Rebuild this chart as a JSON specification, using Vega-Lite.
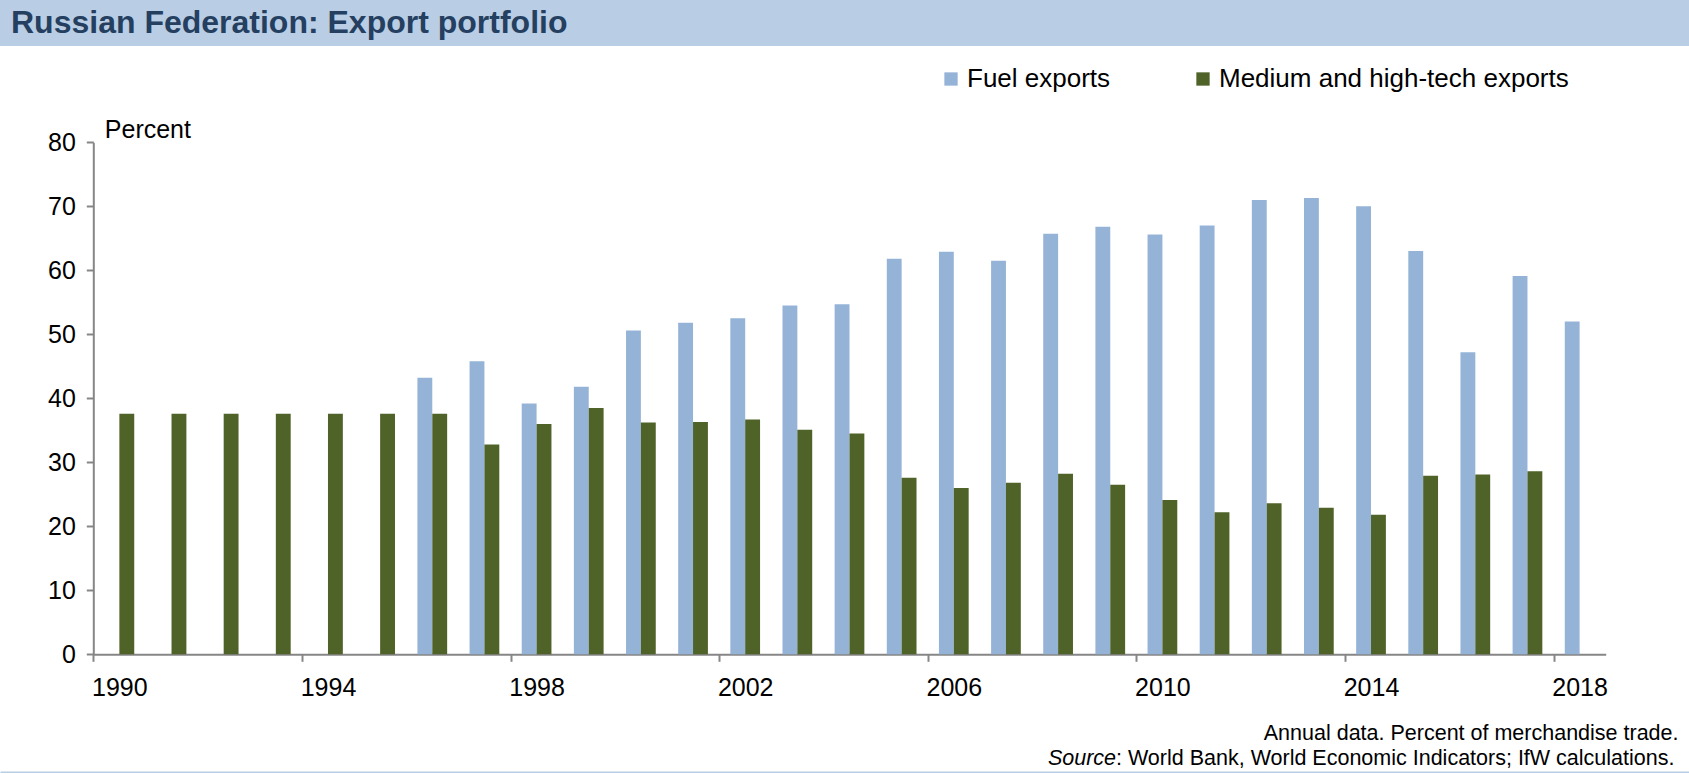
{
  "$schema": "https://vega.github.io/schema/vega-lite/v6.json",
  "padding": 0,
  "background": "white",
  "spacing": 0,
  "bounds": "flush",
  "config": {"font": "Liberation Sans", "view": {"stroke": null}},
  "resolve": {"scale": {"x": "independent", "y": "independent"}},
  "vconcat": [
    {
      "width": 1689,
      "height": 46,
      "view": {"fill": "#b9cde5", "stroke": null},
      "data": {"values": [{"label": "Russian Federation: Export portfolio"}]},
      "mark": {"type": "text", "align": "left", "baseline": "middle", "fontSize": 32, "fontWeight": "bold", "color": "#243f60"},
      "encoding": {
        "x": {"datum": 11, "type": "quantitative", "scale": {"domain": [0, 1689], "nice": false, "zero": false}, "axis": null},
        "text": {"field": "label"}
      }
    },
    {
      "width": 1689,
      "height": 674,
      "data": {"values": [
        {"year": 1990, "series": "Medium and high-tech exports", "value": 37.6},
        {"year": 1991, "series": "Medium and high-tech exports", "value": 37.6},
        {"year": 1992, "series": "Medium and high-tech exports", "value": 37.6},
        {"year": 1993, "series": "Medium and high-tech exports", "value": 37.6},
        {"year": 1994, "series": "Medium and high-tech exports", "value": 37.6},
        {"year": 1995, "series": "Medium and high-tech exports", "value": 37.6},
        {"year": 1996, "series": "Fuel exports", "value": 43.2},
        {"year": 1996, "series": "Medium and high-tech exports", "value": 37.6},
        {"year": 1997, "series": "Fuel exports", "value": 45.8},
        {"year": 1997, "series": "Medium and high-tech exports", "value": 32.8},
        {"year": 1998, "series": "Fuel exports", "value": 39.2},
        {"year": 1998, "series": "Medium and high-tech exports", "value": 36.0},
        {"year": 1999, "series": "Fuel exports", "value": 41.8},
        {"year": 1999, "series": "Medium and high-tech exports", "value": 38.5},
        {"year": 2000, "series": "Fuel exports", "value": 50.6},
        {"year": 2000, "series": "Medium and high-tech exports", "value": 36.2},
        {"year": 2001, "series": "Fuel exports", "value": 51.8},
        {"year": 2001, "series": "Medium and high-tech exports", "value": 36.3},
        {"year": 2002, "series": "Fuel exports", "value": 52.5},
        {"year": 2002, "series": "Medium and high-tech exports", "value": 36.7},
        {"year": 2003, "series": "Fuel exports", "value": 54.5},
        {"year": 2003, "series": "Medium and high-tech exports", "value": 35.1},
        {"year": 2004, "series": "Fuel exports", "value": 54.7},
        {"year": 2004, "series": "Medium and high-tech exports", "value": 34.5},
        {"year": 2005, "series": "Fuel exports", "value": 61.8},
        {"year": 2005, "series": "Medium and high-tech exports", "value": 27.6},
        {"year": 2006, "series": "Fuel exports", "value": 62.9},
        {"year": 2006, "series": "Medium and high-tech exports", "value": 26.0},
        {"year": 2007, "series": "Fuel exports", "value": 61.5},
        {"year": 2007, "series": "Medium and high-tech exports", "value": 26.8},
        {"year": 2008, "series": "Fuel exports", "value": 65.7},
        {"year": 2008, "series": "Medium and high-tech exports", "value": 28.2},
        {"year": 2009, "series": "Fuel exports", "value": 66.8},
        {"year": 2009, "series": "Medium and high-tech exports", "value": 26.5},
        {"year": 2010, "series": "Fuel exports", "value": 65.6},
        {"year": 2010, "series": "Medium and high-tech exports", "value": 24.1},
        {"year": 2011, "series": "Fuel exports", "value": 67.0},
        {"year": 2011, "series": "Medium and high-tech exports", "value": 22.2},
        {"year": 2012, "series": "Fuel exports", "value": 71.0},
        {"year": 2012, "series": "Medium and high-tech exports", "value": 23.6},
        {"year": 2013, "series": "Fuel exports", "value": 71.3},
        {"year": 2013, "series": "Medium and high-tech exports", "value": 22.9},
        {"year": 2014, "series": "Fuel exports", "value": 70.0},
        {"year": 2014, "series": "Medium and high-tech exports", "value": 21.8},
        {"year": 2015, "series": "Fuel exports", "value": 63.0},
        {"year": 2015, "series": "Medium and high-tech exports", "value": 27.9},
        {"year": 2016, "series": "Fuel exports", "value": 47.2},
        {"year": 2016, "series": "Medium and high-tech exports", "value": 28.1},
        {"year": 2017, "series": "Fuel exports", "value": 59.1},
        {"year": 2017, "series": "Medium and high-tech exports", "value": 28.6},
        {"year": 2018, "series": "Fuel exports", "value": 52.0}
      ]},
      "mark": {"type": "bar"},
      "encoding": {
        "x": {
          "field": "year",
          "type": "ordinal",
          "scale": {"range": [93.3, 1605.7], "paddingInner": 0.43, "paddingOuter": 0.215},
          "axis": {
            "orient": "bottom",
            "offset": -65.7,
            "values": [1990, 1994, 1998, 2002, 2006, 2010, 2014, 2018],
            "title": null,
            "labelAngle": 0,
            "labelFontSize": 25,
            "labelColor": "#000000",
            "labelPadding": 14,
            "labelBaseline": "top",
            "tickOffset": -26.07,
            "labelOffset": 26.07,
            "tickSize": 7,
            "tickWidth": 2,
            "tickColor": "#868686",
            "domainColor": "#868686",
            "domainWidth": 2,
            "grid": false
          }
        },
        "xOffset": {
          "field": "series",
          "type": "nominal",
          "scale": {"domain": ["Fuel exports", "Medium and high-tech exports"], "paddingInner": 0, "paddingOuter": 0}
        },
        "y": {
          "field": "value",
          "type": "quantitative",
          "scale": {"domain": [0, 80], "range": [608.3, 96.3], "nice": false, "zero": true},
          "axis": {
            "orient": "left",
            "offset": -93.3,
            "values": [0, 10, 20, 30, 40, 50, 60, 70, 80],
            "grid": false,
            "labelFontSize": 25,
            "labelColor": "#000000",
            "labelPadding": 11,
            "tickSize": 7,
            "tickWidth": 2,
            "tickColor": "#868686",
            "domainColor": "#868686",
            "domainWidth": 2,
            "title": "Percent",
            "titleAngle": 0,
            "titleAlign": "left",
            "titleBaseline": "alphabetic",
            "titleX": 11,
            "titleY": 91.7,
            "titleFontSize": 25,
            "titleFontWeight": "normal",
            "titleColor": "#000000"
          }
        },
        "color": {
          "field": "series",
          "type": "nominal",
          "scale": {"domain": ["Fuel exports", "Medium and high-tech exports"], "range": ["#95b3d7", "#4f6228"]},
          "legend": {
            "orient": "none",
            "legendX": 938,
            "legendY": 66,
            "direction": "horizontal",
            "title": null,
            "padding": 0,
            "symbolType": "square",
            "symbolSize": 177,
            "symbolStrokeWidth": 0,
            "labelFontSize": 26,
            "labelColor": "#000000",
            "labelOffset": 3,
            "labelLimit": 600,
            "columnPadding": 79
          }
        }
      }
    },
    {
      "width": 1689,
      "height": 52.5,
      "layer": [
        {
          "data": {"values": [{"t": "Annual data. Percent of merchandise trade."}]},
          "mark": {"type": "text", "align": "right", "baseline": "middle", "fontSize": 21.5, "color": "#000000"},
          "encoding": {
            "x": {"datum": 1678.5, "type": "quantitative", "scale": {"domain": [0, 1689], "nice": false, "zero": false},
                  "axis": {"domain": true, "domainColor": "#b9cde5", "domainWidth": 3, "ticks": false, "labels": false, "grid": false, "title": null}},
            "y": {"datum": 14, "type": "quantitative", "scale": {"domain": [0, 52.5], "nice": false, "zero": false, "reverse": true}, "axis": null},
            "text": {"field": "t"}
          }
        },
        {
          "data": {"values": [{"t": "Source"}]},
          "mark": {"type": "text", "align": "right", "baseline": "middle", "fontSize": 21.5, "fontStyle": "italic", "color": "#000000"},
          "encoding": {
            "x": {"datum": 1116, "type": "quantitative"},
            "y": {"datum": 38.5, "type": "quantitative"},
            "text": {"field": "t"}
          }
        },
        {
          "data": {"values": [{"t": ": World Bank, World Economic Indicators; IfW calculations."}]},
          "mark": {"type": "text", "align": "left", "baseline": "middle", "fontSize": 21.5, "color": "#000000"},
          "encoding": {
            "x": {"datum": 1116, "type": "quantitative"},
            "y": {"datum": 38.5, "type": "quantitative"},
            "text": {"field": "t"}
          }
        }
      ]
    }
  ]
}
